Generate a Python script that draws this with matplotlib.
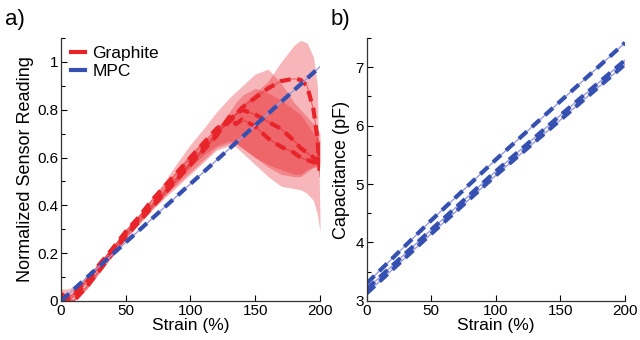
import matplotlib.pyplot as plt
from matplotlib.lines import Line2D
from matplotlib.ticker import MultipleLocator

plt.rcParams['font.family'] = ['Liberation Sans', 'DejaVu Sans']

# graphite sensor, three trials (strain %, normalized reading)
g_x = [0, 5, 10, 20, 30, 40, 50, 60, 70, 80, 90, 100, 110, 120, 130, 135, 140,
       150, 160, 170, 180, 185, 190, 195, 198, 200]
g_a = [0.02, 0.0, 0.02, 0.08, 0.145, 0.21, 0.28, 0.34, 0.40, 0.46, 0.52, 0.58, 0.64,
       0.70, 0.75, 0.78, 0.81, 0.85, 0.89, 0.92, 0.93, 0.925, 0.90, 0.80, 0.68, 0.52]
g_b = [0.03, 0.01, 0.03, 0.09, 0.155, 0.22, 0.29, 0.35, 0.42, 0.48, 0.54, 0.60, 0.66,
       0.72, 0.76, 0.78, 0.80, 0.78, 0.75, 0.72, 0.67, 0.64, 0.62, 0.60, 0.59, 0.60]
g_c = [0.02, 0.0, 0.0, 0.06, 0.13, 0.20, 0.27, 0.33, 0.39, 0.45, 0.51, 0.57, 0.63,
       0.69, 0.77, 0.74, 0.76, 0.73, 0.68, 0.645, 0.62, 0.60, 0.59, 0.58, 0.58, 0.62]

# spread bands for each trial
g_a_hi = [0.05, 0.05, 0.06, 0.10, 0.165, 0.23, 0.30, 0.36, 0.42, 0.48, 0.55, 0.62, 0.67,
          0.72, 0.77, 0.79, 0.82, 0.87, 0.92, 1.00, 1.07, 1.09, 1.08, 1.02, 0.90, 0.35]
g_a_lo = [0.0, 0.0, 0.0, 0.05, 0.12, 0.19, 0.26, 0.32, 0.38, 0.43, 0.48, 0.53, 0.58,
          0.63, 0.65, 0.645, 0.62, 0.57, 0.52, 0.48, 0.47, 0.465, 0.45, 0.42, 0.36, 0.29]
g_b_hi = [0.04, 0.02, 0.04, 0.10, 0.165, 0.23, 0.30, 0.36, 0.43, 0.50, 0.58, 0.655, 0.72,
          0.79, 0.85, 0.875, 0.90, 0.95, 0.97, 0.91, 0.83, 0.80, 0.77, 0.74, 0.72, 0.70]
g_b_lo = [0.0, 0.0, 0.02, 0.08, 0.145, 0.21, 0.28, 0.34, 0.39, 0.44, 0.49, 0.54, 0.59,
          0.64, 0.66, 0.66, 0.64, 0.60, 0.56, 0.53, 0.52, 0.52, 0.54, 0.56, 0.57, 0.58]
g_c_hi = [0.03, 0.01, 0.01, 0.07, 0.14, 0.21, 0.28, 0.34, 0.40, 0.46, 0.52, 0.59, 0.65,
          0.72, 0.79, 0.83, 0.86, 0.89, 0.87, 0.84, 0.80, 0.78, 0.74, 0.70, 0.68, 0.67]
g_c_lo = [0.0, 0.0, 0.0, 0.05, 0.12, 0.19, 0.26, 0.32, 0.38, 0.44, 0.50, 0.56, 0.61,
          0.65, 0.67, 0.66, 0.64, 0.60, 0.57, 0.55, 0.53, 0.53, 0.55, 0.56, 0.56, 0.56]

# MPC sensor
m_x = [0, 50, 100, 150, 200]
m_norm = [0.0, 0.245, 0.49, 0.735, 0.98]
cap_1 = [3.30, 4.38, 5.42, 6.42, 7.42]
cap_2 = [3.20, 4.22, 5.22, 6.18, 7.12]
cap_3 = [3.13, 4.15, 5.15, 6.10, 7.05]

RED = '#e8242b'
BLUE = '#3550b0'
THIN_BLUE = '#9a9ae0'
DASH = (0, (2.6, 1.6))

fig = plt.figure(figsize=(6.4, 3.4), dpi=100)
ax1 = fig.add_axes([0.0953, 0.115, 0.4047, 0.773])
ax2 = fig.add_axes([0.573, 0.115, 0.4036, 0.773])

for lo, hi in [(g_a_lo, g_a_hi), (g_b_lo, g_b_hi), (g_c_lo, g_c_hi)]:
    ax1.fill_between(g_x, lo, hi, color=RED, alpha=0.33, lw=0)
for y in [g_a, g_b, g_c]:
    ax1.plot(g_x, y, color=RED, lw=0.8, alpha=0.6)
    ax1.plot(g_x, y, color=RED, lw=3, linestyle=DASH)
ax1.plot(m_x, m_norm, color=THIN_BLUE, lw=1)
ax1.plot(m_x, m_norm, color=BLUE, lw=3, linestyle=DASH)

for y in [cap_1, cap_2, cap_3]:
    ax2.plot(m_x, y, color=THIN_BLUE, lw=1)
    ax2.plot(m_x, y, color=BLUE, lw=3, linestyle=DASH)

for ax in [ax1, ax2]:
    ax.spines['top'].set_visible(False)
    ax.spines['right'].set_visible(False)
    for s in ['left', 'bottom']:
        ax.spines[s].set_linewidth(0.9)
        ax.spines[s].set_color('#333333')
    ax.set_xlim(0, 200)
    ax.set_xticks([0, 50, 100, 150, 200])
    ax.tick_params(direction='in', length=4, width=0.8, labelsize=11, pad=2)
    ax.tick_params(which='minor', direction='in', length=3, width=0.8)
    ax.set_xlabel('Strain (%)', fontsize=12.5, labelpad=0)

ax1.set_ylim(0, 1.1)
ax1.set_yticks([0, 0.2, 0.4, 0.6, 0.8, 1])
ax1.set_yticklabels(['0', '0.2', '0.4', '0.6', '0.8', '1'])
ax1.yaxis.set_minor_locator(MultipleLocator(0.1))
ax1.set_ylabel('Normalized Sensor Reading', fontsize=13, labelpad=2)

ax2.set_ylim(3, 7.5)
ax2.set_yticks([3, 4, 5, 6, 7])
ax2.yaxis.set_minor_locator(MultipleLocator(0.5))
ax2.set_ylabel('Capacitance (pF)', fontsize=13, labelpad=4)

handles = [Line2D([], [], color=RED, lw=3), Line2D([], [], color=BLUE, lw=3)]
ax1.legend(handles, ['Graphite', 'MPC'], loc='upper left', bbox_to_anchor=(0.0, 1.01),
           frameon=False, fontsize=12.5, handlelength=0.8, handletextpad=0.4,
           labelspacing=0.15, borderaxespad=0.2)

fig.text(0.008, 0.975, 'a)', fontsize=16, va='top')
fig.text(0.516, 0.975, 'b)', fontsize=16, va='top')

plt.savefig('out.png', dpi=100)
